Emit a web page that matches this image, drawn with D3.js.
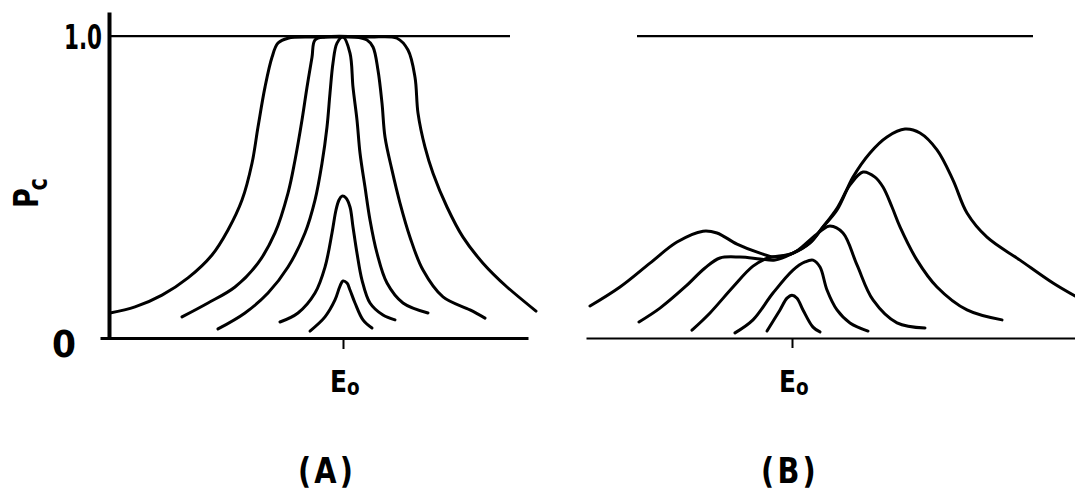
<!DOCTYPE html>
<html>
<head>
<meta charset="utf-8">
<script src="https://cdn.jsdelivr.net/npm/d3@7"></script>
<style>
  body { margin: 0; background: #fff; }
  text { font-family: "DejaVu Sans", "Liberation Sans", sans-serif; font-weight: bold; fill: #000; }
</style>
</head>
<body>
<div id="vis-container"></div>
<script>
// P_c versus energy, x = (E - E0) in arbitrary units, y = probability (0..1)
// panel (A): symmetric family of curves
var curveA1 = [[-2.33,0.083],[-2.08,0.103],[-1.81,0.142],[-1.55,0.199],[-1.31,0.275],[-1.15,0.358],[-1.01,0.457],[-0.91,0.579],[-0.85,0.699],[-0.78,0.831],[-0.71,0.930],[-0.65,0.977],[-0.55,0.993],[-0.31,0.997],[-0.03,0.997],[0.27,0.997],[0.54,0.993],[0.65,0.954],[0.72,0.864],[0.75,0.745],[0.82,0.632],[0.90,0.546],[1.04,0.434],[1.20,0.334],[1.40,0.248],[1.64,0.169],[1.93,0.089]];
var curveA2 = [[-1.61,0.070],[-1.35,0.116],[-1.08,0.169],[-0.85,0.248],[-0.68,0.348],[-0.55,0.480],[-0.48,0.589],[-0.41,0.722],[-0.36,0.831],[-0.31,0.930],[-0.28,0.987],[-0.18,0.997],[0.12,0.997],[0.24,0.987],[0.30,0.964],[0.35,0.887],[0.39,0.778],[0.42,0.666],[0.49,0.556],[0.57,0.447],[0.67,0.334],[0.80,0.225],[1.00,0.136],[1.27,0.093],[1.42,0.066]];
var curveA3 = [[-1.25,0.030],[-0.98,0.083],[-0.75,0.149],[-0.55,0.235],[-0.38,0.348],[-0.28,0.457],[-0.21,0.579],[-0.16,0.699],[-0.13,0.811],[-0.10,0.911],[-0.06,0.977],[0,0.997],[0.07,0.944],[0.10,0.831],[0.14,0.722],[0.17,0.613],[0.22,0.500],[0.27,0.391],[0.34,0.281],[0.44,0.182],[0.60,0.116],[0.85,0.083]];
var curveA4 = [[-0.63,0.053],[-0.45,0.083],[-0.28,0.149],[-0.18,0.235],[-0.11,0.348],[-0.07,0.424],[-0.04,0.457],[-0.01,0.470],[0.03,0.464],[0.07,0.434],[0.10,0.368],[0.14,0.281],[0.19,0.192],[0.27,0.116],[0.40,0.076],[0.52,0.060]];
var curveA5 = [[-0.33,0.023],[-0.18,0.070],[-0.08,0.126],[-0.03,0.172],[0,0.189],[0.04,0.182],[0.07,0.159],[0.12,0.116],[0.20,0.060],[0.29,0.033]];

// panel (B): skewed, two-humped family
var curveB1 = [[-2.02,0.106],[-1.72,0.169],[-1.42,0.248],[-1.15,0.318],[-0.89,0.354],[-0.75,0.348],[-0.55,0.311],[-0.32,0.281],[-0.17,0.268],[0.01,0.281],[0.18,0.315],[0.31,0.368],[0.45,0.424],[0.61,0.533],[0.78,0.613],[0.95,0.666],[1.13,0.692],[1.28,0.679],[1.45,0.623],[1.61,0.523],[1.75,0.414],[1.95,0.334],[2.28,0.258],[2.61,0.182],[2.83,0.139]];
var curveB2 = [[-1.53,0.053],[-1.32,0.099],[-1.07,0.169],[-0.87,0.232],[-0.72,0.265],[-0.52,0.268],[-0.32,0.262],[-0.17,0.258],[0.01,0.281],[0.18,0.315],[0.31,0.368],[0.45,0.430],[0.58,0.507],[0.71,0.550],[0.83,0.533],[0.91,0.500],[1.00,0.434],[1.08,0.368],[1.25,0.258],[1.45,0.169],[1.75,0.093],[2.10,0.060]];
var curveB3 = [[-1.00,0.026],[-0.82,0.083],[-0.59,0.169],[-0.39,0.238],[-0.24,0.265],[0.01,0.281],[0.18,0.325],[0.30,0.358],[0.38,0.371],[0.51,0.348],[0.65,0.242],[0.81,0.126],[1.05,0.050],[1.33,0.033]];
var curveB4 = [[-0.57,0.017],[-0.39,0.060],[-0.19,0.149],[0.01,0.225],[0.13,0.252],[0.21,0.258],[0.28,0.235],[0.35,0.159],[0.45,0.093],[0.58,0.050],[0.76,0.023]];
var curveB5 = [[-0.25,0.023],[-0.12,0.093],[-0.05,0.132],[0,0.142],[0.05,0.132],[0.11,0.093],[0.21,0.036],[0.28,0.020]];

var curvesA = [curveA1, curveA2, curveA3, curveA4, curveA5];
var curvesB = [curveB1, curveB2, curveB3, curveB4, curveB5];

var yTicks = [0, 1];
var yTickLabels = ["0", "1.0"];
var xTicks = [0];
var panelNames = ["(A)", "(B)"];

var width = 1075, height = 502;

var svg = d3.select("#vis-container")
  .append("svg")
    .attr("width", width)
    .attr("height", height);

var yScale = d3.scaleLinear()
    .domain([0, 1.08])
    .range([338, 12]);

var xScaleA = d3.scaleLinear()
    .domain([-2.43, 1.85])
    .range([100, 528]);

var xScaleB = d3.scaleLinear()
    .domain([-2.06, 2.83])
    .range([586, 1075]);

var line = function(xs) {
  return d3.line()
    .x(function(d) { return xs(d[0]); })
    .y(function(d) { return yScale(d[1]); })
    .curve(d3.curveCatmullRom.alpha(0.5));
};

// ---- panel A axes
var xAxisA = d3.axisBottom(xScaleA)
    .tickValues(xTicks)
    .tickSize(11)
    .tickSizeOuter(0)
    .tickFormat("");

svg.append("g")
    .attr("class", "x axis")
    .attr("transform", "translate(0," + yScale(0) + ")")
    .call(xAxisA)
    .call(function(g) {
      g.select(".domain").attr("stroke-width", 3);
      g.selectAll(".tick line").attr("stroke-width", 2);
    });

var yAxis = d3.axisLeft(yScale)
    .tickValues(yTicks)
    .tickSize(0)
    .tickSizeOuter(0)
    .tickPadding(7)
    .tickFormat(function(d, i) { return yTickLabels[i]; });

svg.append("g")
    .attr("class", "y axis")
    .attr("transform", "translate(" + xScaleA(-2.34) + ",0)")
    .call(yAxis)
    .call(function(g) {
      g.select(".domain").attr("stroke-width", 4);
      g.selectAll(".tick text")
        .attr("font-family", null)
        .attr("font-size", null)
        .style("font-size", function(d) { return d ? "34px" : "38px"; })
        .attr("textLength", function(d) { return d ? 38 : 24; })
        .attr("lengthAdjust", "spacingAndGlyphs")
        .attr("dx", function(d) { return d ? 0 : -26; })
        .attr("dy", function(d) { return d ? "0.36em" : "0.48em"; });
    });

// reference line at P = 1.0
svg.append("line")
    .attr("x1", xScaleA(-2.34)).attr("x2", xScaleA(1.67))
    .attr("y1", yScale(1)).attr("y2", yScale(1))
    .attr("stroke", "#000").attr("stroke-width", 2.2);

svg.append("g")
  .selectAll("path")
  .data(curvesA)
  .enter().append("path")
    .attr("d", line(xScaleA))
    .attr("fill", "none")
    .attr("stroke", "#000")
    .attr("stroke-width", 3)
    .attr("stroke-linecap", "round")
    .attr("stroke-linejoin", "round");

// ---- panel B
var xAxisB = d3.axisBottom(xScaleB)
    .tickValues(xTicks)
    .tickSize(10)
    .tickSizeOuter(0)
    .tickFormat("");

svg.append("g")
    .attr("class", "x axis")
    .attr("transform", "translate(0," + yScale(0) + ")")
    .call(xAxisB)
    .call(function(g) {
      g.select(".domain").attr("stroke-width", 2.2);
      g.selectAll(".tick line").attr("stroke-width", 2);
    });

svg.append("line")
    .attr("x1", xScaleB(-1.55)).attr("x2", xScaleB(2.41))
    .attr("y1", yScale(1)).attr("y2", yScale(1))
    .attr("stroke", "#000").attr("stroke-width", 2.2);

svg.append("g")
  .selectAll("path")
  .data(curvesB)
  .enter().append("path")
    .attr("d", line(xScaleB))
    .attr("fill", "none")
    .attr("stroke", "#000")
    .attr("stroke-width", 3)
    .attr("stroke-linecap", "round")
    .attr("stroke-linejoin", "round");

// ---- labels (y label written bottom-to-top)
var pc = svg.append("text")
    .attr("transform", "translate(38,208) rotate(-90) scale(0.8,1)")
    .style("font-size", "34px")
    .text("P");
pc.append("tspan")
    .attr("dx", -3)
    .attr("dy", 9)
    .style("font-size", "26px")
    .text("c");

[xScaleA, xScaleB].forEach(function(xs) {
  var e = svg.append("text")
      .attr("transform", "translate(" + (xs(0) - 13) + ",392) scale(0.8,1)")
      .style("font-size", "31px")
      .text("E");
  e.append("tspan")
      .attr("dy", 3)
      .style("font-size", "23px")
      .text("o");
});

svg.selectAll(".panel-name")
  .data(panelNames)
  .enter().append("text")
    .attr("class", "panel-name")
    .attr("transform", function(d, i) {
      var cx = i === 0 ? xScaleA(-0.16) : xScaleB(-0.02);
      return "translate(" + cx + ",483) scale(0.8,1)";
    })
    .attr("text-anchor", "middle")
    .style("font-size", "36px")
    .style("letter-spacing", "4px")
    .text(function(d) { return d; });
</script>
</body>
</html>
